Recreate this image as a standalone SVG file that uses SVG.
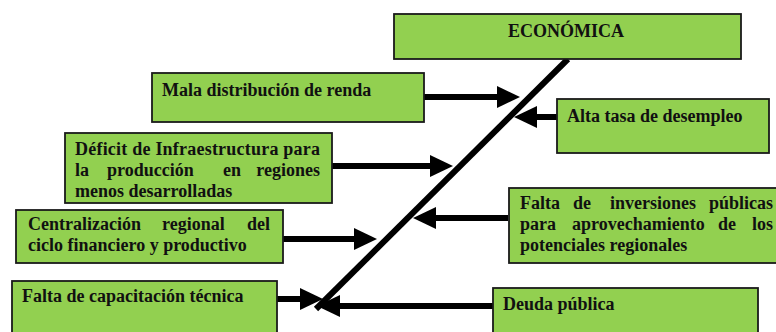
<svg xmlns="http://www.w3.org/2000/svg" width="776" height="332" viewBox="0 0 776 332">
<style>
  .box{fill:#92D050;stroke:#1a1a1a;stroke-width:1.8}
  .t{font-family:"Liberation Serif","Times New Roman",serif;font-weight:bold;font-size:18px;fill:#111}
  .arr{stroke:#000;stroke-width:6;fill:none;marker-end:url(#ah)}
  .spine{stroke:#000;stroke-width:6;fill:none}
</style>
<defs>
  <marker id="ah" markerUnits="userSpaceOnUse" markerWidth="24" markerHeight="22" refX="8" refY="11" orient="auto">
    <path d="M0,0 L23,11 L0,22 z" fill="#000"/>
  </marker>
</defs>
<rect width="776" height="332" fill="#fff"/>
<g id="connectors">
  <line class="spine" x1="568" y1="59" x2="316" y2="309"/>
  <line class="arr" x1="424" y1="97" x2="505" y2="97"/>
  <line class="arr" x1="557" y1="117" x2="529" y2="117"/>
  <line class="arr" x1="332" y1="166" x2="438" y2="166"/>
  <line class="arr" x1="508" y1="218" x2="428" y2="218"/>
  <line class="arr" x1="283" y1="239" x2="362" y2="239"/>
  <line class="arr" x1="277" y1="299" x2="308" y2="299"/>
  <line class="arr" x1="493" y1="306" x2="332" y2="306"/>
</g>
<g id="economica">
  <rect class="box" x="394" y="14" width="347" height="45"/>
  <text class="t" x="566" y="37" text-anchor="middle">ECONÓMICA</text>
</g>
<g id="mala">
  <rect class="box" x="152" y="73" width="272" height="49"/>
  <text class="t" x="162" y="96">Mala distribución de renda</text>
</g>
<g id="alta">
  <rect class="box" x="557" y="99" width="212" height="54"/>
  <text class="t" x="567" y="122">Alta tasa de desempleo</text>
</g>
<g id="deficit">
  <rect class="box" x="65" y="133" width="267" height="70"/>
  <text class="t" x="75" y="155" textLength="245" lengthAdjust="spacing">Déficit de Infraestructura para</text>
  <text class="t" x="75" y="176">la</text>
  <text class="t" x="107" y="176">producción</text>
  <text class="t" x="223" y="176">en</text>
  <text class="t" x="320" y="176" text-anchor="end">regiones</text>
  <text class="t" x="75" y="197">menos desarrolladas</text>
</g>
<g id="inversiones">
  <rect class="box" x="509" y="188" width="280" height="75"/>
  <text class="t" x="520" y="209">Falta</text>
  <text class="t" x="573" y="209">de</text>
  <text class="t" x="610" y="209">inversiones</text>
  <text class="t" x="773" y="209" text-anchor="end">públicas</text>
  <text class="t" x="520" y="230">para</text>
  <text class="t" x="572" y="230">aprovechamiento</text>
  <text class="t" x="718" y="230">de</text>
  <text class="t" x="773" y="230" text-anchor="end">los</text>
  <text class="t" x="520" y="251">potenciales regionales</text>
</g>
<g id="centralizacion">
  <rect class="box" x="16" y="210" width="267" height="53"/>
  <text class="t" x="28" y="230">Centralización</text>
  <text class="t" x="162" y="230">regional</text>
  <text class="t" x="270" y="230" text-anchor="end">del</text>
  <text class="t" x="28" y="251">ciclo financiero y productivo</text>
</g>
<g id="capacitacion">
  <rect class="box" x="12" y="281" width="265" height="60"/>
  <text class="t" x="22" y="302">Falta de capacitación técnica</text>
</g>
<g id="deuda">
  <rect class="box" x="493" y="288" width="265" height="60"/>
  <text class="t" x="503" y="310">Deuda pública</text>
</g>
</svg>
